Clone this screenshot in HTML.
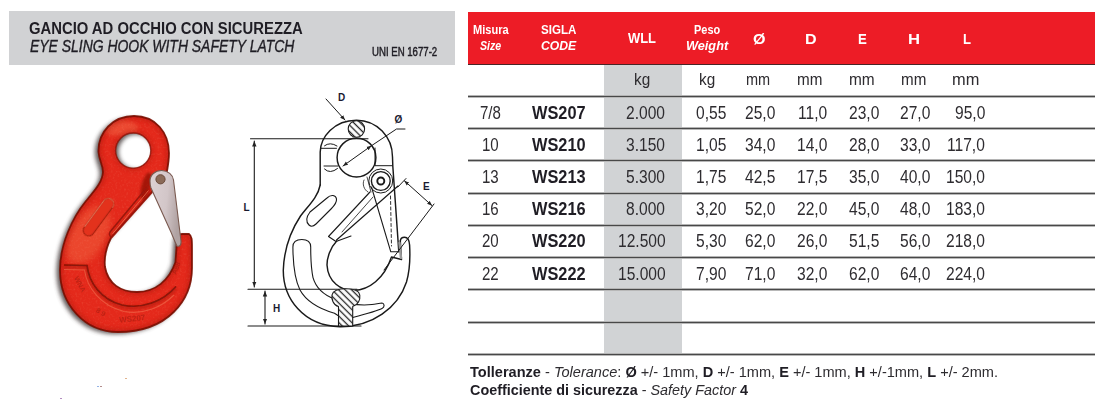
<!DOCTYPE html>
<html><head><meta charset="utf-8"><title>Gancio ad occhio con sicurezza</title>
<style>
html,body{margin:0;padding:0;}
body{width:1100px;height:420px;overflow:hidden;position:relative;background:#fff;font-family:"Liberation Sans",sans-serif;}
.t{position:absolute;white-space:nowrap;line-height:1;transform-origin:0 50%;}
svg{position:absolute;left:0;top:0;overflow:visible;}
</style></head><body>
<div style="position:absolute;left:9px;top:11px;width:446px;height:54px;background:#d1d2d4"></div>
<div class="t" style="left:29.30px;top:21.16px;font-size:16px;color:#1f1d24;font-weight:bold;transform:scaleX(0.9265);">GANCIO AD OCCHIO CON SICUREZZA</div>
<div class="t" style="left:29.50px;top:38.96px;font-size:16px;color:#1f1d24;font-style:italic;transform:scaleX(0.8709);-webkit-text-stroke:0.35px #1f1d24;">EYE SLING HOOK WITH SAFETY LATCH</div>
<div class="t" style="left:372.30px;top:46.14px;font-size:12px;color:#1f1d24;transform:scaleX(0.8013);-webkit-text-stroke:0.45px #1f1d24;">UNI EN 1677-2</div>
<div style="position:absolute;left:467.5px;top:12.4px;width:627.5px;height:51.6px;background:#ed1c26"></div><div style="position:absolute;left:467.5px;top:64px;width:627.5px;height:1px;background:#4a2426"></div>
<div class="t" style="left:473.00px;top:22.73px;font-size:13.2px;color:#ffffff;font-weight:bold;transform:scaleX(0.8373);">Misura</div>
<div class="t" style="left:479.80px;top:39.33px;font-size:13.2px;color:#ffffff;font-weight:bold;font-style:italic;transform:scaleX(0.8026);">Size</div>
<div class="t" style="left:540.60px;top:22.73px;font-size:13.2px;color:#ffffff;font-weight:bold;transform:scaleX(0.8800);">SIGLA</div>
<div class="t" style="left:540.60px;top:39.33px;font-size:13.2px;color:#ffffff;font-weight:bold;font-style:italic;transform:scaleX(0.9229);">CODE</div>
<div class="t" style="left:628.40px;top:30.53px;font-size:14.5px;color:#ffffff;font-weight:bold;transform:scaleX(0.8915);">WLL</div>
<div class="t" style="left:694.20px;top:22.73px;font-size:13.2px;color:#ffffff;font-weight:bold;transform:scaleX(0.8305);">Peso</div>
<div class="t" style="left:686.20px;top:39.33px;font-size:13.2px;color:#ffffff;font-weight:bold;font-style:italic;transform:scaleX(0.9637);">Weight</div>
<div class="t" style="left:753.00px;top:31.93px;font-size:14.5px;color:#ffffff;font-weight:bold;transform:scaleX(1.1081);">Ø</div>
<div class="t" style="left:804.80px;top:31.93px;font-size:14.5px;color:#ffffff;font-weight:bold;transform:scaleX(1.1080);">D</div>
<div class="t" style="left:857.80px;top:31.93px;font-size:14.5px;color:#ffffff;font-weight:bold;transform:scaleX(0.9099);">E</div>
<div class="t" style="left:908.00px;top:31.93px;font-size:14.5px;color:#ffffff;font-weight:bold;transform:scaleX(1.1462);">H</div>
<div class="t" style="left:962.60px;top:31.93px;font-size:14.5px;color:#ffffff;font-weight:bold;transform:scaleX(0.9030);">L</div>
<div style="position:absolute;left:603.6px;top:65px;width:78.2px;height:289px;background:#d1d3d5"></div>
<div style="position:absolute;left:467.5px;top:95px;width:627.5px;height:1px;background:#b4b4b4"></div>
<div style="position:absolute;left:467.5px;top:96px;width:627.5px;height:1px;background:#484848"></div>
<div style="position:absolute;left:467.5px;top:97px;width:627.5px;height:1px;background:#b8b8b8"></div>
<div style="position:absolute;left:467.5px;top:127px;width:627.5px;height:1px;background:#b4b4b4"></div>
<div style="position:absolute;left:467.5px;top:128px;width:627.5px;height:1px;background:#484848"></div>
<div style="position:absolute;left:467.5px;top:129px;width:627.5px;height:1px;background:#b8b8b8"></div>
<div style="position:absolute;left:467.5px;top:159px;width:627.5px;height:1px;background:#b4b4b4"></div>
<div style="position:absolute;left:467.5px;top:160px;width:627.5px;height:1px;background:#484848"></div>
<div style="position:absolute;left:467.5px;top:161px;width:627.5px;height:1px;background:#b8b8b8"></div>
<div style="position:absolute;left:467.5px;top:192px;width:627.5px;height:1px;background:#b4b4b4"></div>
<div style="position:absolute;left:467.5px;top:193px;width:627.5px;height:1px;background:#484848"></div>
<div style="position:absolute;left:467.5px;top:194px;width:627.5px;height:1px;background:#b8b8b8"></div>
<div style="position:absolute;left:467.5px;top:224px;width:627.5px;height:1px;background:#b4b4b4"></div>
<div style="position:absolute;left:467.5px;top:225px;width:627.5px;height:1px;background:#484848"></div>
<div style="position:absolute;left:467.5px;top:226px;width:627.5px;height:1px;background:#b8b8b8"></div>
<div style="position:absolute;left:467.5px;top:256px;width:627.5px;height:1px;background:#b4b4b4"></div>
<div style="position:absolute;left:467.5px;top:257px;width:627.5px;height:1px;background:#484848"></div>
<div style="position:absolute;left:467.5px;top:258px;width:627.5px;height:1px;background:#b8b8b8"></div>
<div style="position:absolute;left:467.5px;top:288px;width:627.5px;height:1px;background:#b4b4b4"></div>
<div style="position:absolute;left:467.5px;top:289px;width:627.5px;height:1px;background:#484848"></div>
<div style="position:absolute;left:467.5px;top:290px;width:627.5px;height:1px;background:#b8b8b8"></div>
<div style="position:absolute;left:467.5px;top:321px;width:627.5px;height:1px;background:#b4b4b4"></div>
<div style="position:absolute;left:467.5px;top:322px;width:627.5px;height:1px;background:#484848"></div>
<div style="position:absolute;left:467.5px;top:323px;width:627.5px;height:1px;background:#b8b8b8"></div>
<div style="position:absolute;left:467.5px;top:353px;width:627.5px;height:1px;background:#b4b4b4"></div>
<div style="position:absolute;left:467.5px;top:354px;width:627.5px;height:1px;background:#484848"></div>
<div style="position:absolute;left:467.5px;top:355px;width:627.5px;height:1px;background:#b8b8b8"></div>
<div class="t" style="left:634.30px;top:71.31px;font-size:17px;color:#2e2c30;transform:scaleX(0.9024);">kg</div>
<div class="t" style="left:698.80px;top:71.31px;font-size:17px;color:#2e2c30;transform:scaleX(0.9024);">kg</div>
<div class="t" style="left:746.25px;top:71.31px;font-size:17px;color:#2e2c30;transform:scaleX(0.8527);">mm</div>
<div class="t" style="left:797.30px;top:71.31px;font-size:17px;color:#2e2c30;transform:scaleX(0.8968);">mm</div>
<div class="t" style="left:849.30px;top:71.31px;font-size:17px;color:#2e2c30;transform:scaleX(0.9074);">mm</div>
<div class="t" style="left:900.70px;top:71.31px;font-size:17px;color:#2e2c30;transform:scaleX(0.8933);">mm</div>
<div class="t" style="left:951.70px;top:71.31px;font-size:17px;color:#2e2c30;transform:scaleX(0.9639);">mm</div>
<div class="t" style="left:480.24px;top:104.69px;font-size:17.5px;color:#2e2c30;transform:scaleX(0.8600);">7/8</div>
<div class="t" style="left:531.52px;top:104.69px;font-size:17.5px;color:#1f1d24;font-weight:bold;transform:scaleX(0.9350);">WS207</div>
<div class="t" style="left:626.23px;top:104.69px;font-size:17.5px;color:#2e2c30;transform:scaleX(0.8900);">2.000</div>
<div class="t" style="left:696.49px;top:104.69px;font-size:17.5px;color:#2e2c30;transform:scaleX(0.8900);">0,55</div>
<div class="t" style="left:745.29px;top:104.69px;font-size:17.5px;color:#2e2c30;transform:scaleX(0.8900);">25,0</div>
<div class="t" style="left:798.04px;top:104.69px;font-size:17.5px;color:#2e2c30;transform:scaleX(0.8900);">11,0</div>
<div class="t" style="left:849.29px;top:104.69px;font-size:17.5px;color:#2e2c30;transform:scaleX(0.8900);">23,0</div>
<div class="t" style="left:900.49px;top:104.69px;font-size:17.5px;color:#2e2c30;transform:scaleX(0.8900);">27,0</div>
<div class="t" style="left:954.59px;top:104.69px;font-size:17.5px;color:#2e2c30;transform:scaleX(0.8900);">95,0</div>
<div class="t" style="left:482.33px;top:137.39px;font-size:17.5px;color:#2e2c30;transform:scaleX(0.8600);">10</div>
<div class="t" style="left:531.52px;top:137.39px;font-size:17.5px;color:#1f1d24;font-weight:bold;transform:scaleX(0.9350);">WS210</div>
<div class="t" style="left:626.23px;top:137.39px;font-size:17.5px;color:#2e2c30;transform:scaleX(0.8900);">3.150</div>
<div class="t" style="left:696.49px;top:137.39px;font-size:17.5px;color:#2e2c30;transform:scaleX(0.8900);">1,05</div>
<div class="t" style="left:745.29px;top:137.39px;font-size:17.5px;color:#2e2c30;transform:scaleX(0.8900);">34,0</div>
<div class="t" style="left:796.89px;top:137.39px;font-size:17.5px;color:#2e2c30;transform:scaleX(0.8900);">14,0</div>
<div class="t" style="left:849.29px;top:137.39px;font-size:17.5px;color:#2e2c30;transform:scaleX(0.8900);">28,0</div>
<div class="t" style="left:900.49px;top:137.39px;font-size:17.5px;color:#2e2c30;transform:scaleX(0.8900);">33,0</div>
<div class="t" style="left:947.08px;top:137.39px;font-size:17.5px;color:#2e2c30;transform:scaleX(0.8900);">117,0</div>
<div class="t" style="left:482.33px;top:169.39px;font-size:17.5px;color:#2e2c30;transform:scaleX(0.8600);">13</div>
<div class="t" style="left:531.52px;top:169.39px;font-size:17.5px;color:#1f1d24;font-weight:bold;transform:scaleX(0.9350);">WS213</div>
<div class="t" style="left:626.23px;top:169.39px;font-size:17.5px;color:#2e2c30;transform:scaleX(0.8900);">5.300</div>
<div class="t" style="left:696.49px;top:169.39px;font-size:17.5px;color:#2e2c30;transform:scaleX(0.8900);">1,75</div>
<div class="t" style="left:745.29px;top:169.39px;font-size:17.5px;color:#2e2c30;transform:scaleX(0.8900);">42,5</div>
<div class="t" style="left:796.89px;top:169.39px;font-size:17.5px;color:#2e2c30;transform:scaleX(0.8900);">17,5</div>
<div class="t" style="left:849.29px;top:169.39px;font-size:17.5px;color:#2e2c30;transform:scaleX(0.8900);">35,0</div>
<div class="t" style="left:900.49px;top:169.39px;font-size:17.5px;color:#2e2c30;transform:scaleX(0.8900);">40,0</div>
<div class="t" style="left:945.93px;top:169.39px;font-size:17.5px;color:#2e2c30;transform:scaleX(0.8900);">150,0</div>
<div class="t" style="left:482.33px;top:200.99px;font-size:17.5px;color:#2e2c30;transform:scaleX(0.8600);">16</div>
<div class="t" style="left:531.52px;top:200.99px;font-size:17.5px;color:#1f1d24;font-weight:bold;transform:scaleX(0.9350);">WS216</div>
<div class="t" style="left:626.23px;top:200.99px;font-size:17.5px;color:#2e2c30;transform:scaleX(0.8900);">8.000</div>
<div class="t" style="left:696.49px;top:200.99px;font-size:17.5px;color:#2e2c30;transform:scaleX(0.8900);">3,20</div>
<div class="t" style="left:745.29px;top:200.99px;font-size:17.5px;color:#2e2c30;transform:scaleX(0.8900);">52,0</div>
<div class="t" style="left:796.89px;top:200.99px;font-size:17.5px;color:#2e2c30;transform:scaleX(0.8900);">22,0</div>
<div class="t" style="left:849.29px;top:200.99px;font-size:17.5px;color:#2e2c30;transform:scaleX(0.8900);">45,0</div>
<div class="t" style="left:900.49px;top:200.99px;font-size:17.5px;color:#2e2c30;transform:scaleX(0.8900);">48,0</div>
<div class="t" style="left:945.93px;top:200.99px;font-size:17.5px;color:#2e2c30;transform:scaleX(0.8900);">183,0</div>
<div class="t" style="left:482.33px;top:232.99px;font-size:17.5px;color:#2e2c30;transform:scaleX(0.8600);">20</div>
<div class="t" style="left:531.52px;top:232.99px;font-size:17.5px;color:#1f1d24;font-weight:bold;transform:scaleX(0.9350);">WS220</div>
<div class="t" style="left:617.56px;top:232.99px;font-size:17.5px;color:#2e2c30;transform:scaleX(0.8900);">12.500</div>
<div class="t" style="left:696.49px;top:232.99px;font-size:17.5px;color:#2e2c30;transform:scaleX(0.8900);">5,30</div>
<div class="t" style="left:745.29px;top:232.99px;font-size:17.5px;color:#2e2c30;transform:scaleX(0.8900);">62,0</div>
<div class="t" style="left:796.89px;top:232.99px;font-size:17.5px;color:#2e2c30;transform:scaleX(0.8900);">26,0</div>
<div class="t" style="left:849.29px;top:232.99px;font-size:17.5px;color:#2e2c30;transform:scaleX(0.8900);">51,5</div>
<div class="t" style="left:900.49px;top:232.99px;font-size:17.5px;color:#2e2c30;transform:scaleX(0.8900);">56,0</div>
<div class="t" style="left:945.93px;top:232.99px;font-size:17.5px;color:#2e2c30;transform:scaleX(0.8900);">218,0</div>
<div class="t" style="left:482.33px;top:266.39px;font-size:17.5px;color:#2e2c30;transform:scaleX(0.8600);">22</div>
<div class="t" style="left:531.52px;top:266.39px;font-size:17.5px;color:#1f1d24;font-weight:bold;transform:scaleX(0.9350);">WS222</div>
<div class="t" style="left:617.56px;top:266.39px;font-size:17.5px;color:#2e2c30;transform:scaleX(0.8900);">15.000</div>
<div class="t" style="left:696.49px;top:266.39px;font-size:17.5px;color:#2e2c30;transform:scaleX(0.8900);">7,90</div>
<div class="t" style="left:745.29px;top:266.39px;font-size:17.5px;color:#2e2c30;transform:scaleX(0.8900);">71,0</div>
<div class="t" style="left:796.89px;top:266.39px;font-size:17.5px;color:#2e2c30;transform:scaleX(0.8900);">32,0</div>
<div class="t" style="left:849.29px;top:266.39px;font-size:17.5px;color:#2e2c30;transform:scaleX(0.8900);">62,0</div>
<div class="t" style="left:900.49px;top:266.39px;font-size:17.5px;color:#2e2c30;transform:scaleX(0.8900);">64,0</div>
<div class="t" style="left:945.93px;top:266.39px;font-size:17.5px;color:#2e2c30;transform:scaleX(0.8900);">224,0</div>
<div style="position:absolute;left:125px;top:378px;width:2px;height:1px;background:#d9a070;opacity:0.8"></div>
<div style="position:absolute;left:97px;top:386px;width:2px;height:1px;background:#7aa0e0;opacity:0.8"></div>
<div style="position:absolute;left:100px;top:386px;width:2px;height:1px;background:#a07070;opacity:0.8"></div>
<div style="position:absolute;left:60px;top:398px;width:2px;height:1px;background:#a070b0;opacity:0.8"></div>
<div class="t" style="left:470.00px;top:364.35px;font-size:15.3px;transform:scaleX(0.9518);white-space:pre"><span style="font-weight:bold;color:#1f1d24">Tolleranze</span><span style="color:#2e2c30"> - </span><span style="font-style:italic;color:#2e2c30">Tolerance</span><span style="color:#2e2c30">: </span><span style="font-weight:bold;color:#1f1d24">Ø</span><span style="color:#2e2c30"> +/- 1mm, </span><span style="font-weight:bold;color:#1f1d24">D</span><span style="color:#2e2c30"> +/- 1mm, </span><span style="font-weight:bold;color:#1f1d24">E</span><span style="color:#2e2c30"> +/- 1mm, </span><span style="font-weight:bold;color:#1f1d24">H</span><span style="color:#2e2c30"> +/-1mm, </span><span style="font-weight:bold;color:#1f1d24">L</span><span style="color:#2e2c30"> +/- 2mm.</span></div>
<div class="t" style="left:470.00px;top:382.25px;font-size:15.3px;transform:scaleX(0.9395);white-space:pre"><span style="font-weight:bold;color:#1f1d24">Coefficiente di sicurezza</span><span style="color:#2e2c30"> - </span><span style="font-style:italic;color:#2e2c30">Safety Factor</span><span style="color:#2e2c30"> </span><span style="font-weight:bold;color:#1f1d24">4</span></div>

<svg width="240" height="420" viewBox="0 0 240 420" style="left:0;top:0">
<defs>
<filter id="blur3" x="-30%" y="-30%" width="160%" height="160%"><feGaussianBlur stdDeviation="3.5"/></filter>
<filter id="blur2" x="-30%" y="-30%" width="160%" height="160%"><feGaussianBlur stdDeviation="2.2"/></filter>
<filter id="blur1" x="-30%" y="-30%" width="160%" height="160%"><feGaussianBlur stdDeviation="1.2"/></filter>
<filter id="blur05" x="-30%" y="-30%" width="160%" height="160%"><feGaussianBlur stdDeviation="0.6"/></filter>
<filter id="speck" x="0" y="0" width="100%" height="100%">
<feTurbulence type="fractalNoise" baseFrequency="0.45" numOctaves="2" seed="3" result="n"/>
<feColorMatrix in="n" type="matrix" values="0 0 0 0 1  0 0 0 0 0.45  0 0 0 0 0.3  0 0 0 -2.5 1.3" result="c"/>
<feComposite in="c" in2="SourceGraphic" operator="in"/>
</filter>
<path id="outer" d="M134,116 C156,116 169,133 169,153 C169,163 167,170 166,177 L152,192 L111,238 C106,248 104,258 105,267 C108,284 121,292 137,292 C155,292 169,281 175.5,262 L177,240 C177,236 179,234 182,234 L189,234 C192,236 192,240 192,248 L192,268 C192,300 168,332 118,332 C85,332 60,305 60,270 C60,245 72,218 86,201 C95,190 102.5,182 103,172 C103,165 99,160 98.5,152 C98,132 113,116 134,116 Z"/>
<path id="hole" d="M133.2,133.0 C123.48,133.0 115.6,140.88 115.6,150.6 C115.6,160.32 123.48,168.2 133.2,168.2 C142.92,168.2 150.79999999999998,160.32 150.79999999999998,150.6 C150.79999999999998,140.88 142.92,133.0 133.2,133.0 Z"/>
<clipPath id="bodyClip"><path d="M134,116 C156,116 169,133 169,153 C169,163 167,170 166,177 L152,192 L111,238 C106,248 104,258 105,267 C108,284 121,292 137,292 C155,292 169,281 175.5,262 L177,240 C177,236 179,234 182,234 L189,234 C192,236 192,240 192,248 L192,268 C192,300 168,332 118,332 C85,332 60,305 60,270 C60,245 72,218 86,201 C95,190 102.5,182 103,172 C103,165 99,160 98.5,152 C98,132 113,116 134,116 Z M133.2,133.0 C123.48,133.0 115.6,140.88 115.6,150.6 C115.6,160.32 123.48,168.2 133.2,168.2 C142.92,168.2 150.79999999999998,160.32 150.79999999999998,150.6 C150.79999999999998,140.88 142.92,133.0 133.2,133.0 Z" clip-rule="evenodd"/></clipPath>
<linearGradient id="gLatch" x1="0" y1="0" x2="1" y2="0.25">
<stop offset="0" stop-color="#ddd2d4"/>
<stop offset="0.6" stop-color="#d2c6c8"/>
<stop offset="1" stop-color="#b0a2a2"/>
</linearGradient>
</defs>
<!-- drop shadow -->
<mask id="shMask" maskUnits="userSpaceOnUse" x="0" y="0" width="240" height="420"><rect width="240" height="420" fill="#fff"/><circle cx="136" cy="152" r="17.5" fill="#000" filter="url(#blur2)"/></mask>
<g filter="url(#blur2)" opacity="0.85" mask="url(#shMask)"><path transform="translate(-3.5,2)" d="M134,116 C156,116 169,133 169,153 C169,163 167,170 166,177 L152,192 L111,238 C106,248 104,258 105,267 C108,284 121,292 137,292 C155,292 169,281 175.5,262 L177,240 C177,236 179,234 182,234 L189,234 C192,236 192,240 192,248 L192,268 C192,300 168,332 118,332 C85,332 60,305 60,270 C60,245 72,218 86,201 C95,190 102.5,182 103,172 C103,165 99,160 98.5,152 C98,132 113,116 134,116 Z" fill="#4a4040"/></g>
<g clip-path="url(#bodyClip)">
<rect x="40" y="100" width="170" height="250" fill="#e4291b"/>
<!-- highlight zones -->
<ellipse cx="88" cy="235" rx="18" ry="32" fill="#f0603c" opacity="0.55" filter="url(#blur3)" transform="rotate(30 88 235)"/>
<ellipse cx="120" cy="128" rx="18" ry="8" fill="#f36a48" opacity="0.5" filter="url(#blur2)"/>
<rect x="40" y="100" width="170" height="250" fill="#fff" filter="url(#speck)" opacity="0.12"/>
<!-- edge darkening -->
<use href="#outer" fill="none" stroke="#a01408" stroke-width="6" opacity="0.4" filter="url(#blur2)"/>
<use href="#hole" fill="none" stroke="#a01408" stroke-width="5" opacity="0.35" filter="url(#blur2)"/>
<ellipse cx="146" cy="186" rx="4.5" ry="14" fill="#8a1006" opacity="0.7" filter="url(#blur1)" transform="rotate(15 146 186)"/>
</g>
<use href="#outer" fill="none" stroke="#7a1006" stroke-width="1.8" opacity="0.9" filter="url(#blur05)"/>
<use href="#hole" fill="none" stroke="#8a1408" stroke-width="1.4" opacity="0.8" filter="url(#blur05)"/>
<!-- slot on shank -->
<g transform="translate(98.5 217.2) rotate(36.4)">
<rect x="-5.5" y="-22" width="11" height="44" rx="5.5" fill="#e3321e" stroke="#a8200f" stroke-width="1.2" filter="url(#blur05)"/>
<path d="M-5.5,16 L-5.5,-16 C-5.5,-20 -3,-22 0,-22 C3,-22 5.5,-20 5.5,-16" fill="none" stroke="#f58a6a" stroke-width="1" opacity="0.7" filter="url(#blur05)"/>
</g>
<!-- ridge lines -->
<path d="M146.5,188 L110,232 C109,234 109.5,236 111,236.5" fill="none" stroke="#9a180a" stroke-width="1.5" filter="url(#blur05)"/>
<path d="M148.5,190.5 L112.5,234" stroke="#f47a58" stroke-width="1" opacity="0.7" filter="url(#blur05)"/>
<path d="M152,192 L111,238" stroke="#a8180a" stroke-width="2.2" opacity="0.6" filter="url(#blur05)"/>
<!-- groove -->
<path d="M64,266.5 L87,267 C89,283 100,300 122,306.5 C142,311 163,303 176,288" fill="none" stroke="#b01e0e" stroke-width="4" opacity="0.55" filter="url(#blur1)"/>
<path d="M64,265 L87,265.5 C89,282 100,299 122,305 C142,309.5 163,301.5 176,286.5" fill="none" stroke="#8a1408" stroke-width="1.6" filter="url(#blur05)"/>
<path d="M64,269.5 L84.5,270 C87,288 101,306 124,311.5 C144,315 162,307 174,295" fill="none" stroke="#f07050" stroke-width="1.1" opacity="0.6" filter="url(#blur05)"/>
<!-- embossed marks -->
<g font-family="Liberation Sans" font-weight="bold" fill="#9a1a0c" opacity="0.55" filter="url(#blur05)">
<text x="119" y="321" font-size="8" transform="rotate(-6 137 318)">WS207</text>
<text x="96" y="314" font-size="7" transform="rotate(30 100 312)">8 9</text>
<text x="74" y="278" font-size="7" transform="rotate(62 74 278)">WNA</text>
<text x="176" y="275" font-size="7" transform="rotate(-68 176 275)">A88</text>
</g>
<!-- latch -->
<path d="M150,181 C150,175 155,170.5 161.5,170.5 C168,170.5 173,175 173.5,180 L181,241 C181.5,245 179.5,247 177,246 C174,240 172,234 170,230 L151,188 C150.3,186 150,183.5 150,181 Z" fill="url(#gLatch)" stroke="#7a5a50" stroke-width="1.1" filter="url(#blur05)"/>
<circle cx="160.5" cy="179.3" r="4.6" fill="#8a6a58" stroke="#6a4a3a" stroke-width="1" filter="url(#blur05)"/>
</svg>

<svg width="460" height="420" viewBox="0 0 460 420" style="left:0;top:0">
<defs>
<pattern id="hatch" patternUnits="userSpaceOnUse" width="4.6" height="4.6" patternTransform="rotate(-45)">
<rect width="4.6" height="4.6" fill="#fff"/>
<line x1="2.3" y1="0" x2="2.3" y2="4.6" stroke="#222" stroke-width="1.3"/>
</pattern>
<marker id="arr" viewBox="0 0 10 10" refX="10" refY="5" markerWidth="5" markerHeight="5" orient="auto-start-reverse">
<path d="M0,1 L10,5 L0,9 Z" fill="#222"/>
</marker>
</defs>
<g fill="none" stroke="#1a1a1a" stroke-width="1.45" stroke-linecap="round" stroke-linejoin="round">
<!-- dimension lines L / H -->
<line x1="250.5" y1="138.8" x2="368" y2="138.8" stroke-width="1.1"/>
<line x1="254.3" y1="287" x2="254.3" y2="141" stroke-width="1.1" marker-end="url(#arr)" marker-start="url(#arr)"/>
<line x1="248" y1="289.3" x2="357" y2="289.3" stroke-width="1.1"/>
<line x1="248" y1="326" x2="361" y2="326" stroke-width="1.1"/>
<line x1="265" y1="291" x2="265" y2="324" stroke-width="1.1" marker-end="url(#arr)" marker-start="url(#arr)"/>
<!-- outer contour -->
<path d="M320.2,185 L320.2,152 C320.5,137 334,120.2 356.5,120.2 C377,120.2 392.5,137 392.5,157 L392.8,166 L398.8,251.8"/>
<path d="M320.2,185 C318,197 308,206 300.5,216 C290,232 284,250 283.3,270 C283,298 303,326 340,326.7 C372,327 398,308 406.5,282 C410,270 410,252 409.6,245 C409.2,239.5 407.2,237.3 404.6,237.3 C402,237.3 400.5,238.5 400.3,241"/>
<!-- eye hole -->
<circle cx="356.5" cy="157.6" r="19.4"/>
<!-- D section circle -->
<circle cx="356.4" cy="129" r="8.2" fill="url(#hatch)" stroke-width="1.1"/>
<!-- lugs left of eye -->
<path d="M321.2,148.3 L336.5,148.3 M324,166 L338,166 M324.5,145.8 Q330,141.5 337,146 M324.5,169 Q330,174.5 337.5,168.5" stroke-width="1"/>
<path d="M375,148 L375,165.7 L392,165.7" stroke-width="1"/>
<!-- D leader -->
<line x1="326" y1="99" x2="345" y2="120" stroke-width="1" marker-end="url(#arr)"/>
<!-- O leader -->
<polyline points="405,129 396.5,129 371.5,145.7" stroke-width="1"/>
<line x1="371.5" y1="145.7" x2="343" y2="166" stroke-width="1" marker-end="url(#arr)" marker-start="url(#arr)"/>
<!-- slot 1 -->
<path d="M309,225 C305,221 307,216 310,212 L327,198 C331,194 336,195 336.5,199 C337,203 334,206 331,209 L316,224 C313,227 311,227 309,225 Z" stroke-width="1.1"/>
<!-- slot 2 curved -->
<path d="M292.9,247 C292.9,242 296.5,239.5 301.8,239.5 C307,239.5 310.7,242 310.7,247 C310.7,258 311,268 313,277.6 C316,288 324,295 334.5,299 C345,303 360,306 372,304.5 C376,304 380,303 382,303 C384.5,303.5 385,307 382,308.5 C377,311 366,314 352.7,317.5 C345,318.5 338,316 334.5,313.3 C320,309 306,301 300,290 C295,280 293,262 292.9,247 Z" stroke-width="1.1"/>
<!-- inner throat -->
<path d="M336.7,241 C330,248 327,258 327,265 C328,282 341,291 354,290.5 C369,290 384,279 391.5,257 L401.5,259.5 L400.3,241"/>
<path d="M399.5,243 L401,258" stroke="#999" stroke-width="2.5"/>
<!-- bracket bar -->
<path d="M398,186 L336.5,240" stroke-width="1.2"/>
<path d="M370,192 L328.5,236.5 L336,241.5 L351,236" stroke-width="1.1"/>
<path d="M373,197 L342,232" stroke-width="0.8"/>
<path d="M364,180 C362,184 364,190 368,192 M367,177 L371,192" stroke-width="0.8"/>
<!-- bottom section -->
<path d="M338.5,306.5 C333,305 331.5,299 332,295 C333,290 339,288.8 346,288.8 C353,288.8 359,290 359.8,295 C360.5,300 358,305 352.7,306.5 L352.7,326 L338.5,326 Z" fill="url(#hatch)" stroke-width="1.1"/>
<!-- latch -->
<circle cx="380.8" cy="181" r="12" fill="#fff" stroke-width="1"/>
<circle cx="380.8" cy="181" r="9.4" stroke-width="1.4"/>
<circle cx="380.8" cy="181" r="3.5" stroke-width="1.9"/>
<path d="M371.5,187 L390.8,251.8 L398.8,251.8" stroke-width="1.1"/>
<line x1="390.5" y1="196" x2="391.5" y2="246" stroke-width="0.9" stroke-dasharray="3,2.5"/>
<!-- E dimension -->
<line x1="404.3" y1="180.7" x2="432.1" y2="205.7" stroke-width="1" marker-end="url(#arr)" marker-start="url(#arr)"/>
<line x1="434" y1="204" x2="384" y2="270" stroke-width="1"/>
<line x1="397.9" y1="187" x2="406" y2="178.5" stroke-width="1"/>
</g>
<g font-family="Liberation Sans" font-weight="bold" font-size="10" fill="#1a1a30">
<text x="338" y="100.5">D</text>
<text x="394.5" y="123">Ø</text>
<text x="423" y="190">E</text>
<text x="243.5" y="211">L</text>
<text x="273" y="311.5">H</text>
</g>
</svg>

</body></html>
